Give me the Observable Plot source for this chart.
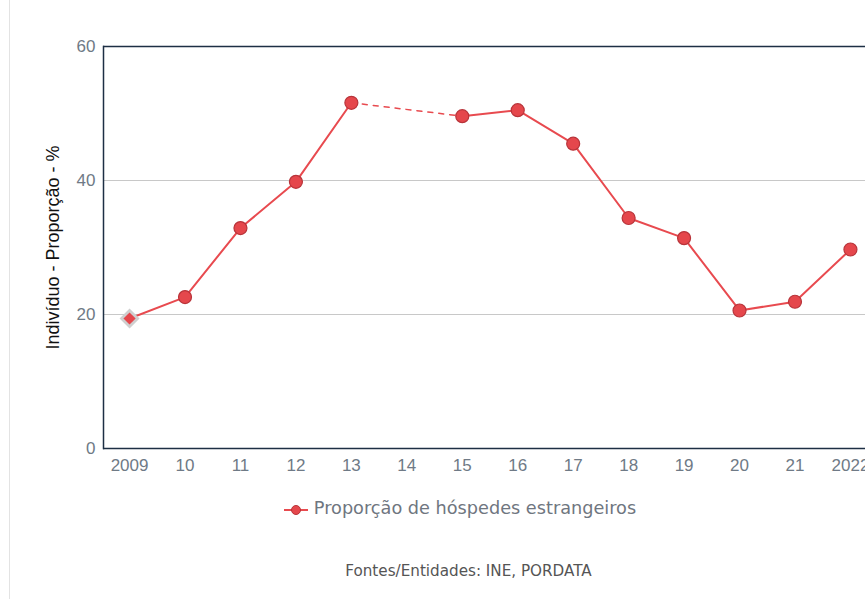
<!DOCTYPE html>
<html><head><meta charset="utf-8">
<script src="https://cdn.jsdelivr.net/npm/d3@7"></script>
<script src="https://cdn.jsdelivr.net/npm/@observablehq/plot@0.6"></script>
<style>
html,body{margin:0;padding:0;background:#fff;overflow:hidden;width:865px;height:599px;}
#wrap{position:relative;width:865px;height:599px;overflow:hidden;}
#edge{position:absolute;left:9px;top:0;width:1px;height:599px;background:#e3e3e3;}
#chart{position:absolute;left:0;top:0;}
#chart svg{max-width:none !important;}
#chart svg text{font-size:17px;}
#chart svg .ylab text{font-size:18px;}
#legend{position:absolute;top:498px;left:0;width:920px;text-align:center;font-family:"DejaVu Sans",Verdana,sans-serif;font-size:17.7px;color:#6f7680;white-space:nowrap;}
#legend svg{vertical-align:-2px;margin-right:6px;}
#caption{position:absolute;top:562px;left:0;width:937px;text-align:center;font-family:"DejaVu Sans",Verdana,sans-serif;font-size:15.2px;color:#555;}
</style></head>
<body><div id="wrap"><div id="edge"></div><div id="chart"></div>
<div id="legend"><svg width="24" height="12"><line x1="0" y1="6" x2="24" y2="6" stroke="#e84a4f" stroke-width="2"/><circle cx="12" cy="6" r="4.5" fill="#e5474c" stroke="#b8343a"/></svg>Proporção de hóspedes estrangeiros</div>
<div id="caption">Fontes/Entidades: INE, PORDATA</div>
</div>
<script>
const categories = ["2009","10","11","12","13","14","15","16","17","18","19","20","21","2022"];
const values = [19.4, 22.6, 32.9, 39.8, 51.6, null, 49.6, 50.5, 45.5, 34.4, 31.4, 20.6, 21.9, 29.7];
const yTicks = [0, 20, 40, 60];
const seriesName = "Proporção de hóspedes estrangeiros";

const data = categories.map((c, i) => ({cat: c, v: values[i]}));
const defined = data.filter(d => d.v != null);
// bridge across the missing year (dashed)
const bridge = [];
for (let i = 0; i < data.length; i++) {
  if (data[i].v == null) {
    const prev = data.slice(0, i).reverse().find(d => d.v != null);
    const next = data.slice(i + 1).find(d => d.v != null);
    if (prev && next) bridge.push(prev, next);
  }
}
const red = "#e84a4f";
const chart = Plot.plot({
  width: 876, height: 480,
  marginLeft: 103, marginRight: 0, marginTop: 46, marginBottom: 32,
  style: {fontFamily: "Liberation Sans, Arial, sans-serif", fontSize: "17px", overflow: "visible", maxWidth: "none"},
  x: {type: "point", domain: categories, padding: 0.47, round: false, label: null},
  y: {domain: [0, 60], ticks: yTicks, label: null},
  marks: [
    Plot.gridY(yTicks.filter(t => t > 0 && t < 60), {stroke: "#c8c8c8", strokeOpacity: 1, strokeWidth: 1}),
    Plot.ruleY([60], {stroke: "#1d2f44", strokeWidth: 1.5}),
    Plot.ruleY([0], {stroke: "#1d2f44", strokeWidth: 1.5}),
    Plot.axisX({tickSize: 0, tickPadding: 10, fill: "#6f7a86"}),
    Plot.axisY(yTicks, {tickSize: 0, tickPadding: 8, fill: "#6f7a86", label: null}),
    Plot.frame({anchor: "left", stroke: "#1d2f44", strokeWidth: 1.5}),
    Plot.text(["Indivíduo - Proporção - %"], {frameAnchor: "left", textAnchor: "middle", dx: -50, rotate: -90, fill: "#111", className: "ylab"}),
    Plot.line(bridge, {x: "cat", y: "v", stroke: red, strokeWidth: 1.5, strokeDasharray: "5,6"}),
    Plot.line(data, {x: "cat", y: "v", stroke: red, strokeWidth: 2, defined: d => d.v != null}),
    Plot.dot(defined.slice(0, 1), {x: "cat", y: "v", symbol: "diamond2", r: 9, fill: "#cfcfcf"}),
    Plot.dot(defined.slice(0, 1), {x: "cat", y: "v", symbol: "diamond2", r: 5.5, fill: "#e5474c"}),
    Plot.dot(defined.slice(1), {x: "cat", y: "v", r: 6.5, fill: "#e5474c", stroke: "#b8343a", strokeWidth: 1.2})
  ]
});
document.getElementById("chart").appendChild(chart);
</script></body></html>
